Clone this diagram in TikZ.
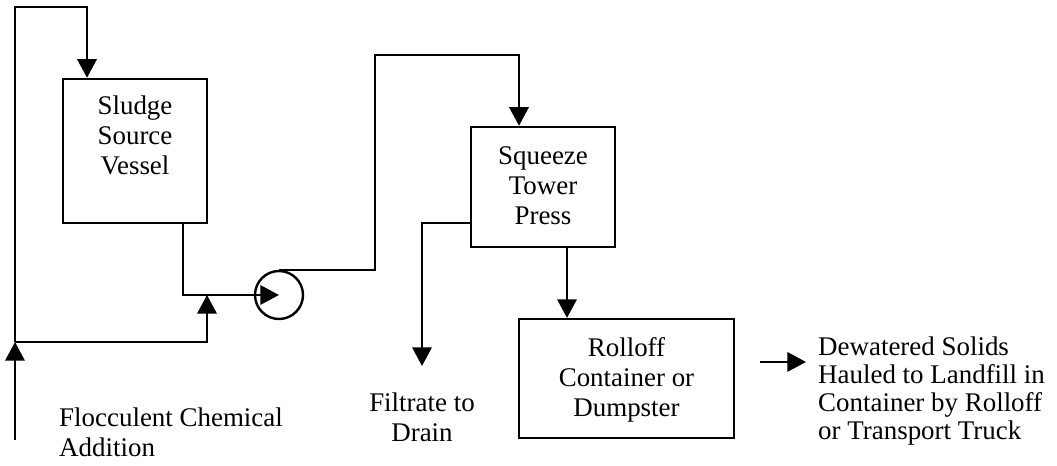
\documentclass[tikz,border=0pt]{standalone}
\usepackage{fontspec}
\setmainfont{Liberation Serif}
\usetikzlibrary{arrows.meta,calc}

\begin{document}
\begin{tikzpicture}[
  x=0.75pt, y=-0.75pt,
  line width=1.8pt,
  flow/.style={-{Triangle[length=14pt,width=14.5pt]}},
  unit/.style={draw, rectangle, inner sep=0pt},
  label text/.style={inner sep=0pt, font=\fontsize{20.2pt}{22.5pt}\selectfont},
]
\useasboundingbox (0,0) rectangle (1057,466);

% process units
\node[unit, minimum width=108pt, minimum height=108pt] (sludge)  at (135,151) {};
\node[unit, minimum width=108pt, minimum height=90pt]  (squeeze) at (543,187) {};
\node[unit, minimum width=161pt, minimum height=89pt]  (rolloff) at (626.5,378.5) {};
\node[draw, circle, minimum size=36pt, inner sep=0pt]  (pump)    at (279,295) {};

% unit captions
\node[label text, align=center, anchor=north] (sludgetext)  at (135,95)  {Sludge\\Source\\Vessel};
\node[label text, align=center, anchor=north] (squeezetext) at (543,145) {Squeeze\\Tower\\Press};
\node[label text, align=center, anchor=north] (rollofftext) at (626.5,336) {Rolloff\\Container or\\Dumpster};

% stream labels
\node[label text, align=center, anchor=north] (filtrate) at (422,392) {Filtrate to\\Drain};
\node[label text, align=left, anchor=north west] (floc) at (58,407) {Flocculent Chemical\\Addition};
\node[inner sep=0pt, align=left, anchor=north west,
      font=\fontsize{20.2pt}{20.8pt}\selectfont] (haul) at (817,336)
  {Dewatered Solids\\Hauled to Landfill in\\Container by Rolloff\\or Transport Truck};

% piping points
\coordinate (feed)    at (15,440);
\coordinate (split)   at (15,342);
\coordinate (topleft) at (15,7);
\coordinate (mix)     at (207,295);
\coordinate (riser)   at (375,55);

% flocculent feed and its two branches
\draw[flow] (feed) -- (split);
\draw[flow] (split) -- (topleft) -| ([xshift=-36pt]sludge.north);
\draw[flow] (split) -| (mix);

% sludge to pump
\draw[flow] ([xshift=36pt]sludge.south) |- (pump.center);

% pump discharge to press
\draw[flow] (pump.north) -| (riser) -| ([xshift=-18pt]squeeze.north);

% filtrate
\draw[flow] ([yshift=-27pt]squeeze.west) -| ([yshift=19.5pt]filtrate.north);

% press cake to container
\draw[flow] ([xshift=18pt]squeeze.south) -- ([xshift=18pt]squeeze.south |- rolloff.north);

% haul-off
\draw[flow] ([shift={(18.75pt,12.4pt)}]rolloff.east) -- +(46,0);
\end{tikzpicture}
\end{document}
